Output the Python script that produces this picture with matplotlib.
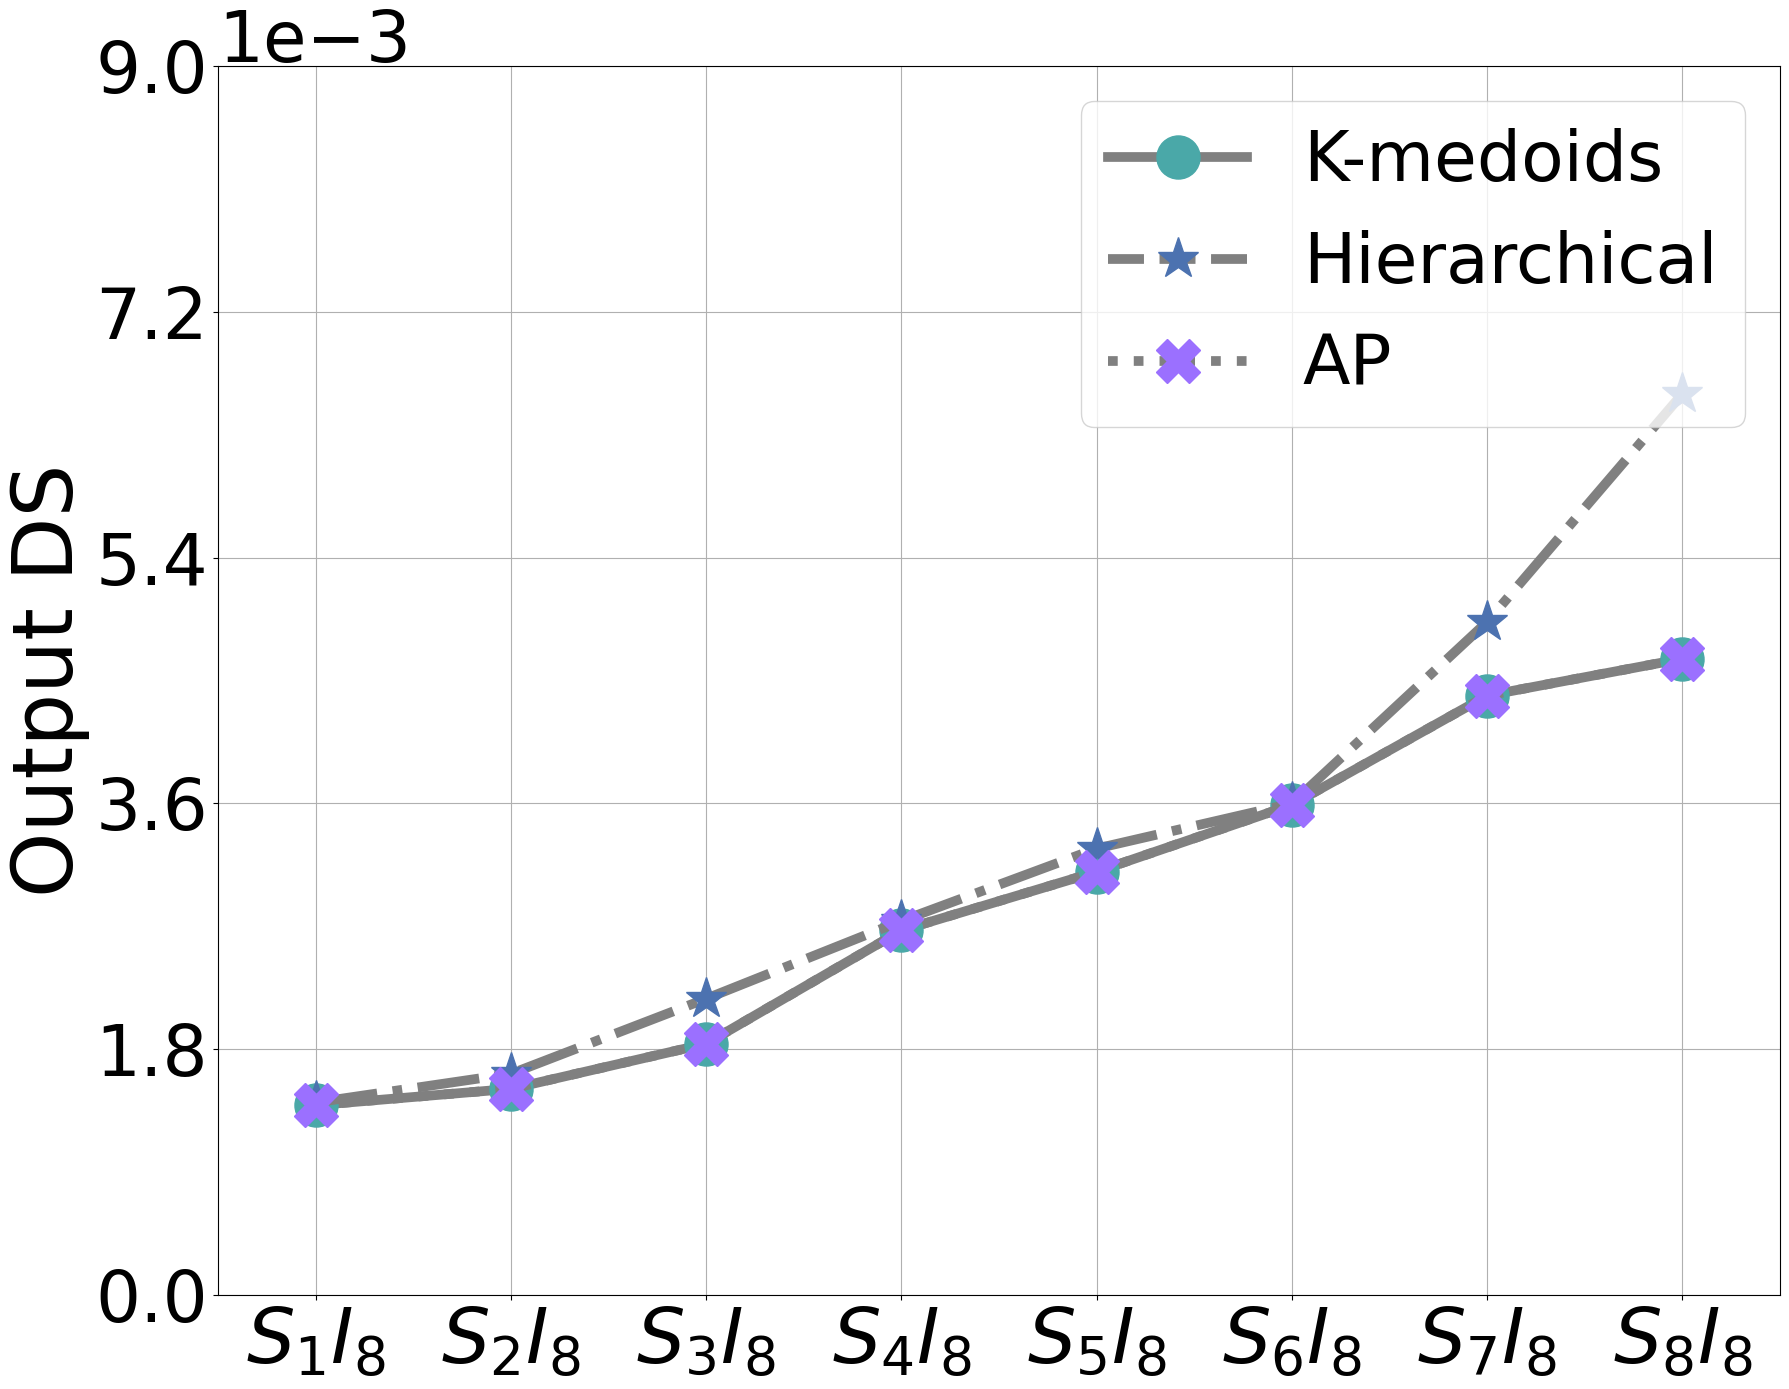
import numpy as np
import matplotlib
matplotlib.use("Agg")
import matplotlib.pyplot as plt
from matplotlib.lines import Line2D

categories = [r"$S_{%d}I_8$" % i for i in range(1, 9)]
kmedoids = [1.39, 1.51, 1.84, 2.67, 3.10, 3.59, 4.39, 4.66]
hierarchical = [1.41, 1.62, 2.17, 2.74, 3.27, 3.60, 4.93, 6.60]
ap = [1.39, 1.51, 1.84, 2.67, 3.10, 3.59, 4.39, 4.66]
scale = 1e-3

c_k = "#4aa8a8"
c_h = "#4c72b0"
c_ap = "#9b70ff"
lc = "gray"
lw = 7
ms = 31

fig = plt.figure(figsize=(17.9, 13.89), dpi=100)
ax = fig.add_axes([0.1218, 0.0677, 0.8726, 0.8846])

x = np.arange(len(categories))
ax.plot(x, np.array(kmedoids) * scale, color=lc, lw=lw, ls="-", marker="o",
        ms=ms, mfc=c_k, mec=c_k, zorder=3)
ax.plot(x, np.array(hierarchical) * scale, color=lc, lw=lw, ls="-.", marker="*",
        ms=ms, mfc=c_h, mec=c_h, zorder=3)
ax.plot(x, np.array(ap) * scale, color=lc, lw=lw, ls=":", marker="X",
        ms=ms, mfc=c_ap, mec=c_ap, zorder=3)

ax.set_xlim(-0.5, 7.5)
ax.set_ylim(0, 0.009)
ax.set_yticks(np.linspace(0, 0.009, 6))
ax.ticklabel_format(axis="y", style="sci", scilimits=(-3, -3))
ax.set_xticks(x)
ax.set_xticklabels(categories)
ax.tick_params(axis="y", labelsize=51)
ax.tick_params(axis="x", labelsize=55)
ax.yaxis.get_offset_text().set_fontsize(51)
ax.set_ylabel("Output DS", fontsize=60)
ax.grid(True)
ax.set_axisbelow(True)

handles = [
    Line2D([], [], color=lc, lw=lw, ls="-", marker="o", ms=ms, mfc=c_k, mec=c_k),
    Line2D([], [], color=lc, lw=lw, ls="--", marker="*", ms=ms, mfc=c_h, mec=c_h),
    Line2D([], [], color=lc, lw=lw, ls=":", marker="X", ms=ms, mfc=c_ap, mec=c_ap),
]
ax.legend(handles, ["K-medoids", "Hierarchical", "AP"], fontsize=50,
          loc="upper right", bbox_to_anchor=(0.9749, 0.9275),
          bbox_transform=fig.transFigure, borderaxespad=0)

fig.savefig("out.png", dpi=100)
